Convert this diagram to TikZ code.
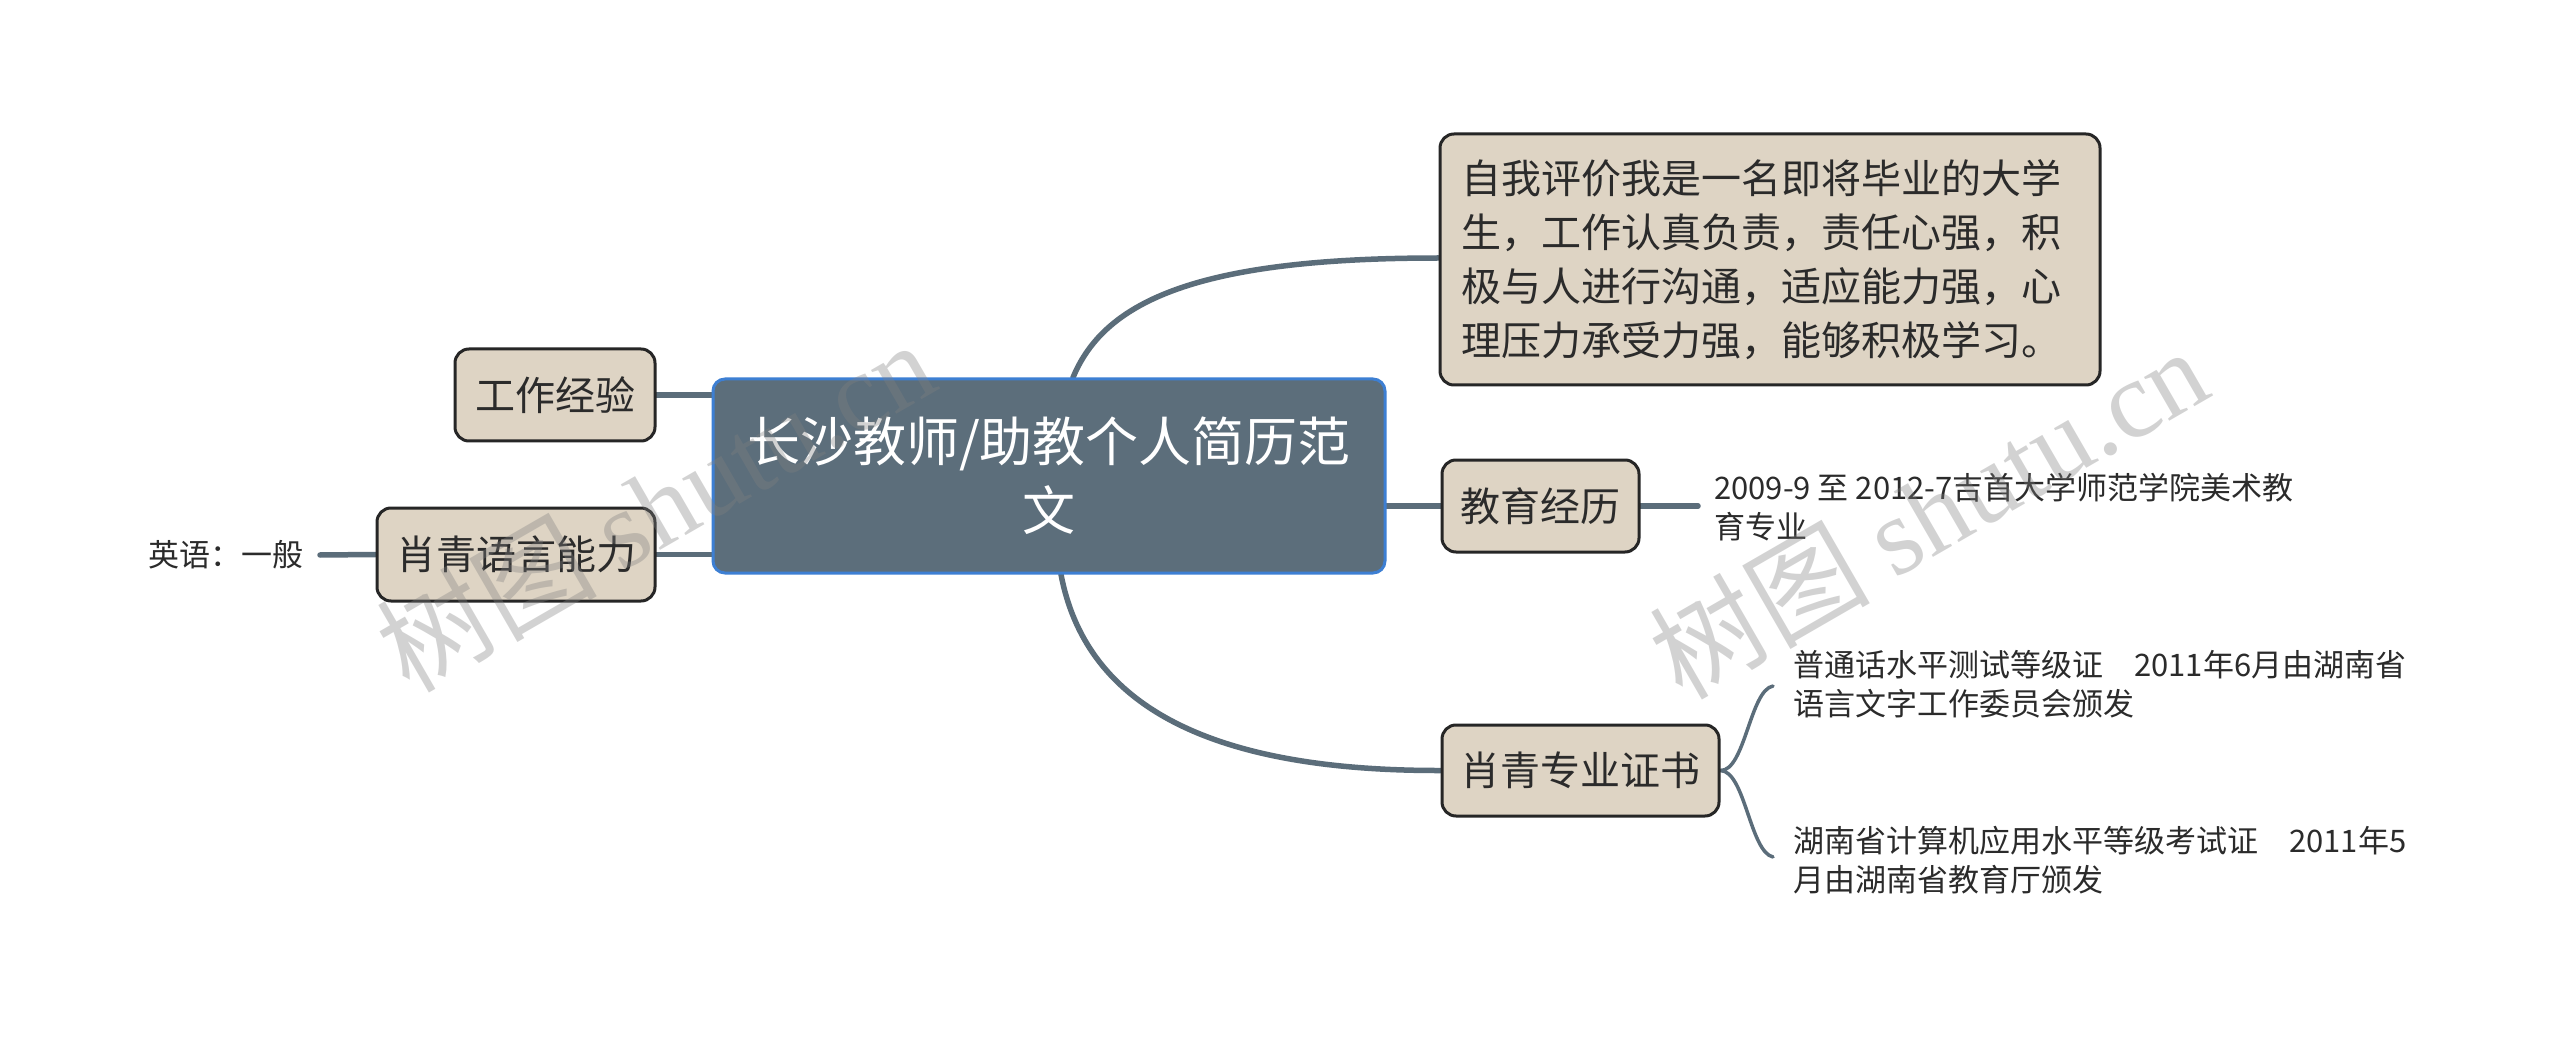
\documentclass[tikz,border=0pt]{standalone}
\usepackage{fontspec}
\setmainfont{Noto Sans CJK SC}
\newfontfamily\wmlatin{Liberation Serif}
\usetikzlibrary{backgrounds}
\definecolor{linec}{HTML}{5B6D7A}
\definecolor{rootfill}{HTML}{5C6E7B}
\definecolor{rootborder}{HTML}{3D7FD3}
\definecolor{boxfill}{HTML}{DED4C4}
\definecolor{boxborder}{HTML}{262626}
\definecolor{txt}{HTML}{2B2B2B}
\tikzset{
  rootbox/.style={draw=rootborder, fill=rootfill, line width=3pt, rounded corners=12pt,
    text=white, align=center, inner sep=0pt, font=\fontsize{53}{69}\selectfont},
  topicbox/.style={draw=boxborder, fill=boxfill, line width=3pt, rounded corners=14pt,
    text=txt, align=center, inner sep=0pt, font=\fontsize{40}{54}\selectfont},
  leaf/.style={text=txt, align=left, inner sep=0pt, font=\fontsize{31}{39}\selectfont},
  conn/.style={draw=linec, line width=5.5pt, line cap=round},
  subconn/.style={draw=linec, line width=3.5pt, line cap=round},
  wm/.style={text=gray, opacity=0.35, font=\fontsize{110}{110}\selectfont, rotate=30}
}
\begin{document}
\begin{tikzpicture}[x=1pt,y=-1pt]
\useasboundingbox (0,0) rectangle (2560,1048);

% nodes
\node[rootbox, minimum width=672pt, minimum height=194pt] (root) at (1049,476)
  {长沙教师/助教个人简历范\\文};
\node[topicbox, minimum width=660pt, minimum height=251pt, align=left, text width=618pt] (self) at (1770,259.5)
  {自我评价我是一名即将毕业的大学\\生，工作认真负责，责任心强，积\\极与人进行沟通，适应能力强，心\\理压力承受力强，能够积极学习。};
\node[topicbox, minimum width=200pt, minimum height=92pt] (work) at (555,395) {工作经验};
\node[topicbox, minimum width=278pt, minimum height=93pt] (lang) at (516,554.5) {肖青语言能力};
\node[topicbox, minimum width=197pt, minimum height=92pt] (edu) at (1540.5,506) {教育经历};
\node[topicbox, minimum width=277pt, minimum height=91pt] (cert) at (1580.5,770.5) {肖青专业证书};

\node[leaf, anchor=east] (eng) at (304,555) {英语：一般};
\node[leaf, anchor=west] (edut) at (1714,507) {2009-9 至 2012-7吉首大学师范学院美术教\\育专业};
\node[leaf, anchor=west] (c1) at (1793,684) {普通话水平测试等级证\quad 2011年6月由湖南省\\语言文字工作委员会颁发};
\node[leaf, anchor=west] (c2) at (1793,860) {湖南省计算机应用水平等级考试证\quad 2011年5\\月由湖南省教育厅颁发};

\coordinate (rt) at (1073,383);
\coordinate (rb) at (1061,569);
\coordinate (c1e) at (1773,686);
\coordinate (c2e) at (1773,857);
\coordinate (engc) at (320,555);
\coordinate (edue) at (1698,506);

\begin{scope}[on background layer]
\fill[white] (0,0) rectangle (2560,1048);
\draw[conn] (root.north -| rt) .. controls (1105,300) and (1200,258) .. (self.west |- 0,258);
\draw[conn] (root.south -| rb) .. controls (1085,700) and (1200,771) .. (cert.west);
\draw[conn] (root.east |- edu.west) -- (edu.west);
\draw[conn] (work.east) -- (root.west |- work.east);
\draw[conn] (lang.east) -- (root.west |- lang.east);
\draw[conn] (engc) -- (lang.west);
\draw[conn] (edu.east) -- (edue);
\draw[subconn] (cert.east) .. controls (1745,771) and (1750,690) .. (c1e);
\draw[subconn] (cert.east) .. controls (1745,771) and (1750,852) .. (c2e);
\end{scope}

% watermarks
\node[wm] (wm1) at (655,505) {树图 {\wmlatin shutu.cn}};
\node[wm] (wm2) at (1928,512) {树图 {\wmlatin shutu.cn}};
\end{tikzpicture}
\end{document}
